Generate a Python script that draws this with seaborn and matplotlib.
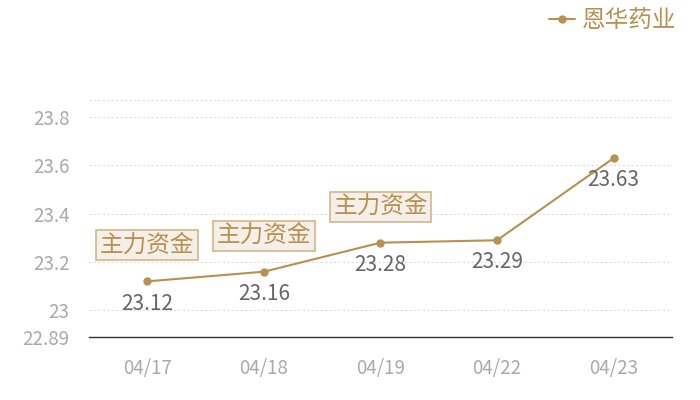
import pandas as pd
import seaborn as sns
from matplotlib import pyplot as plt

dates = ["04/17", "04/18", "04/19", "04/22", "04/23"]
prices = [23.12, 23.16, 23.28, 23.29, 23.63]
flag_dates = ["04/17", "04/18", "04/19"]
flag_text = "主力资金"
series_name = "恩华药业"
y_ticks = [22.89, 23.0, 23.2, 23.4, 23.6, 23.8]
y_tick_labels = ["22.89", "23", "23.2", "23.4", "23.6", "23.8"]

line_color = "#b89150"

sns.set_style("white")
plt.rcParams["font.family"] = ["Noto Sans CJK SC", "DejaVu Sans"]

df = pd.DataFrame({"date": dates, "price": prices})
df["pos"] = range(len(df))

fig = plt.figure(figsize=(7, 4), dpi=100)
ax = fig.add_axes([0.127, 0.1575, 0.833, 0.5925])

sns.lineplot(data=df, x="pos", y="price", ax=ax, color=line_color,
             marker="o", markersize=6, markeredgewidth=0, linewidth=1.5,
             label=series_name, legend=False)

ax.set_xlim(-0.5, len(dates) - 0.5)
ax.set_ylim(22.89, 23.87)
ax.set_xticks(df["pos"])
ax.set_xticklabels(dates)
ax.set_yticks(y_ticks + [23.87])
ax.set_yticklabels(y_tick_labels + [""])
ax.tick_params(axis="both", length=0, labelsize=13.5, colors="#aaaaaa")
ax.tick_params(axis="x", pad=15)
ax.tick_params(axis="y", pad=14)
ax.set_xlabel("")
ax.set_ylabel("")

ax.grid(axis="y", color="#dcdcdc", linestyle=(0, (2, 2)), linewidth=0.8)
ax.grid(axis="x", visible=False)
for side in ["top", "right", "left"]:
    ax.spines[side].set_visible(False)
ax.spines["bottom"].set_color("#333333")
ax.spines["bottom"].set_linewidth(1)

for _, row in df.iterrows():
    ax.annotate(f"{row['price']:.2f}", (row["pos"], row["price"]),
                xytext=(0, -16), textcoords="offset points",
                ha="center", va="center", fontsize=15, color="#666666")

for d in flag_dates:
    row = df[df["date"] == d].iloc[0]
    ax.annotate(flag_text, (row["pos"], row["price"]),
                xytext=(0, 26), textcoords="offset points",
                ha="center", va="center", fontsize=17, color=line_color,
                bbox=dict(boxstyle="square,pad=0.15", facecolor="#f4efe8",
                          edgecolor="#d2b68a", linewidth=1.2))

handles, labels = ax.get_legend_handles_labels()
fig.legend(handles, labels, loc="upper right", bbox_to_anchor=(0.997, 1.03),
           frameon=False, fontsize=17, handlelength=1.1, handletextpad=0.3,
           labelcolor=line_color)

fig.savefig("out.png", dpi=100)
